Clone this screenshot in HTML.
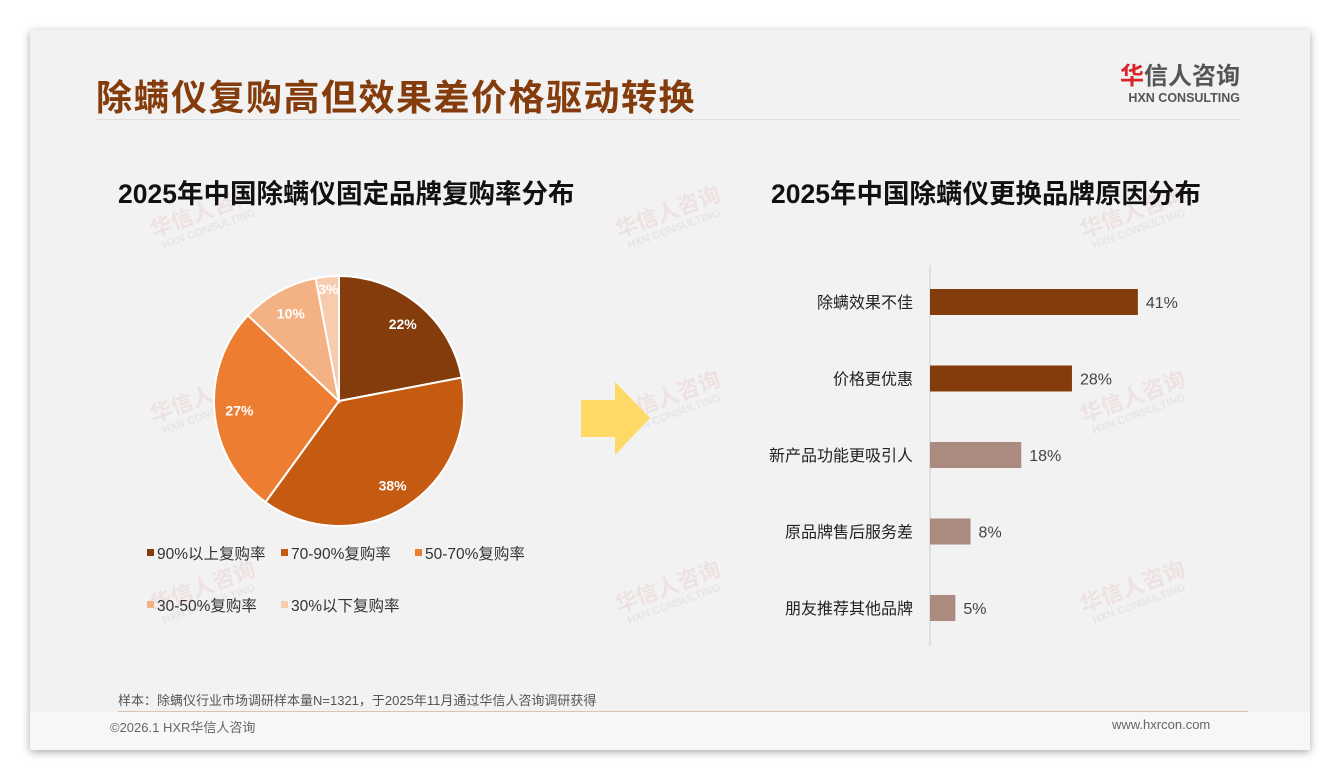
<!DOCTYPE html>
<html><head><meta charset="utf-8"><style>
body{margin:0;width:1340px;height:780px;background:#fff;font-family:"Liberation Sans","Noto Sans CJK SC",sans-serif;position:relative;overflow:hidden}
.card{position:absolute;left:30px;top:30px;width:1280px;height:720px;background:#f2f2f2;box-shadow:0 2px 8px rgba(0,0,0,.35)}
.foot{position:absolute;left:0;top:682px;width:1280px;height:38px;background:#f7f7f7}
.abs{position:absolute}
.wm{position:absolute;color:rgba(200,60,60,.09);font-weight:bold;transform:rotate(-20deg);font-size:22px;line-height:1.1;text-align:center}
.wm small{display:block;font-size:11px;color:rgba(120,120,120,.1)}
</style></head><body>
<div class="card">
  <div class="foot"></div>
  <div class="abs" style="left:66px;top:39px;font-size:36px;font-weight:bold;color:#843c0c;letter-spacing:1.5px">除螨仪复购高但效果差价格驱动转换</div>
  <div class="abs" style="left:1080px;top:33px;text-align:right;width:130px">
    <div style="font-size:24px;font-weight:bold;color:#555;line-height:28px"><span style="color:#d9262b">华</span>信人咨询</div>
    <div style="font-size:12.5px;font-weight:bold;color:#555;line-height:14px">HXN CONSULTING</div>
  </div>
  <div class="abs" style="left:66px;top:89px;width:1144px;height:1px;background:#ddd"></div>
  <div class="wm" style="left:120px;top:170px">华信人咨询<small>HXN CONSULTING</small></div>
  <div class="wm" style="left:585px;top:170px">华信人咨询<small>HXN CONSULTING</small></div>
  <div class="wm" style="left:1050px;top:170px">华信人咨询<small>HXN CONSULTING</small></div>
  <div class="wm" style="left:120px;top:355px">华信人咨询<small>HXN CONSULTING</small></div>
  <div class="wm" style="left:585px;top:355px">华信人咨询<small>HXN CONSULTING</small></div>
  <div class="wm" style="left:1050px;top:355px">华信人咨询<small>HXN CONSULTING</small></div>
  <div class="wm" style="left:120px;top:545px">华信人咨询<small>HXN CONSULTING</small></div>
  <div class="wm" style="left:585px;top:545px">华信人咨询<small>HXN CONSULTING</small></div>
  <div class="wm" style="left:1050px;top:545px">华信人咨询<small>HXN CONSULTING</small></div>
  <div class="abs" style="left:88px;top:142px;font-size:26.5px;font-weight:bold;color:#111">2025年中国除螨仪固定品牌复购率分布</div>
  <div class="abs" style="left:741px;top:142px;font-size:26.5px;font-weight:bold;color:#111">2025年中国除螨仪更换品牌原因分布</div>
  <div class="abs" style="left:88px;top:660px;font-size:13px;color:#555">样本：除螨仪行业市场调研样本量N=1321，于2025年11月通过华信人咨询调研获得</div>
  <div class="abs" style="left:88px;top:681px;width:1130px;height:1px;background:#d8c3b5"></div>
  <div class="abs" style="left:80px;top:687px;font-size:13px;color:#666">©2026.1 HXR华信人咨询</div>
  <div class="abs" style="left:1082px;top:687px;font-size:13px;color:#666">www.hxrcon.com</div>
</div>
<svg class="abs" style="left:0;top:0" width="1340" height="780">
  <g id="pie"></g>
  <g id="legend"></g>
  <polygon points="581,400 615,400 615,382 650,418 615,455 615,437 581,437" fill="#ffd966"/>
  <g id="bars"></g>
</svg>
<script>
const pieLabels=["90%以上复购率","70-90%复购率","50-70%复购率","30-50%复购率","30%以下复购率"];
const pieValues=[22,38,27,10,3];
const pieColors=["#843c0c","#c55a11","#ed7d31","#f4b183","#f8cbad"];
const barCats=["除螨效果不佳","价格更优惠","新产品功能更吸引人","原品牌售后服务差","朋友推荐其他品牌"];
const barValues=[41,28,18,8,5];
const barColors=["#843c0c","#843c0c","#ab8a80","#ab8a80","#ab8a80"];
const NS="http://www.w3.org/2000/svg";
function mk(t,a,p){const e=document.createElementNS(NS,t);for(const k in a)e.setAttribute(k,a[k]);p.appendChild(e);return e;}
const pie=document.getElementById('pie');
const cx=339,cy=401,r=125,tot=pieValues.reduce((a,b)=>a+b,0);
let ang=-Math.PI/2;
pieValues.forEach((v,i)=>{
  const a2=ang+v/tot*2*Math.PI;
  const x1=cx+r*Math.cos(ang),y1=cy+r*Math.sin(ang),x2=cx+r*Math.cos(a2),y2=cy+r*Math.sin(a2);
  const p=mk('path',{d:`M${cx},${cy}L${x1},${y1}A${r},${r} 0 ${a2-ang>Math.PI?1:0} 1 ${x2},${y2}Z`,fill:pieColors[i],stroke:'#fff','stroke-width':2},pie);
  
  
  const m=(ang+a2)/2,lr=v<5?0.9*r:0.8*r;
  const t=mk('text',{x:cx+lr*Math.cos(m),y:cy+lr*Math.sin(m)+5,'text-anchor':'middle','font-size':14,'font-weight':'bold',fill:'#fff'},pie);
  t.textContent=v+'%';
  
  
  ang=a2;
});
const lg=document.getElementById('legend');
const lpos=[[147,553],[281,553],[415,553],[147,605],[281,605]];
pieLabels.forEach((l,i)=>{
  const g=mk('g',{},lg);
  
  
  mk('rect',{x:lpos[i][0],y:lpos[i][1]-4,width:7,height:7,fill:pieColors[i]},g);
  const t=mk('text',{x:lpos[i][0]+10,y:lpos[i][1]+6,'font-size':15.5,fill:'#333'},g);
  t.textContent=l;
});
const bg=document.getElementById('bars');
const x0=930,sx=v=>v*5.07,y0=302,step=76.5;
mk('line',{x1:x0,y1:265,x2:x0,y2:646,stroke:'#ccc'},bg);
barValues.forEach((v,i)=>{
  const yc=y0+i*step;
  const b=mk('rect',{x:x0,y:yc-13,width:sx(v),height:26,fill:barColors[i]},bg);
  
  
  const c=mk('text',{x:x0-17,y:yc+6,'text-anchor':'end','font-size':16,fill:'#222'},bg);
  c.textContent=barCats[i];
  
  
  const t=mk('text',{x:x0+sx(v)+8,y:yc+6,'font-size':16,fill:'#444'},bg);
  t.textContent=v+'%';
  
  
});
</script>
</body></html>
